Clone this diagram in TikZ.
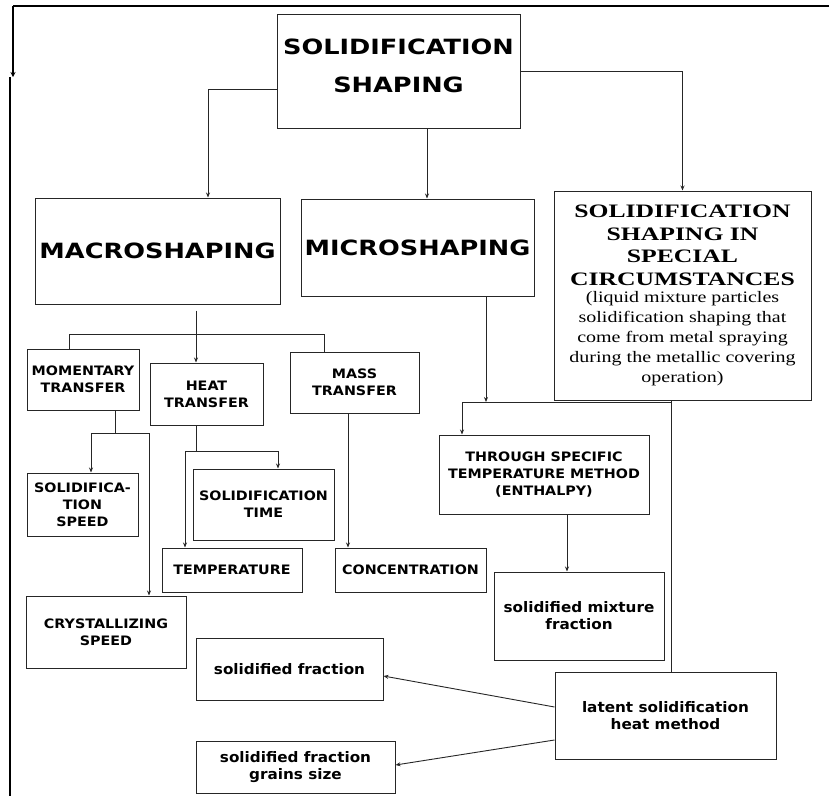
\documentclass[tikz,border=0pt]{standalone}
\usepackage{fontspec}
\setmainfont{Liberation Serif}
\newfontfamily\headsans{DejaVu Sans}[FakeStretch=1.22]
\newfontfamily\labelsans{DejaVu Sans}[FakeStretch=1.1]
\newfontfamily\lowsans{DejaVu Sans}[FakeStretch=1.05]
\newfontfamily\titleserif{Liberation Serif}[FakeStretch=1.35]
\newfontfamily\noteserif{Liberation Serif}[FakeStretch=1.25]
\newcommand\sptitle{\titleserif\bfseries\fontsize{19}{20}\selectfont}
\newcommand\spnote{\noteserif\mdseries\fontsize{16}{20}\selectfont}
\usetikzlibrary{arrows.meta}

\begin{document}
\begin{tikzpicture}[x=1pt,y=-1pt,
  box/.style={draw=black!85, line width=1pt, rectangle, inner sep=0pt, align=center},
  headfont/.style={font=\headsans\bfseries\fontsize{21}{38}\selectfont},
  headbox/.style={box, headfont},
  capbox/.style={box, font=\labelsans\bfseries\fontsize{13}{17}\selectfont},
  lowbox/.style={box, font=\lowsans\bfseries\fontsize{14.5}{17}\selectfont},
  link/.style={draw=black!85, line width=0.9pt},
  arr/.style={link, -{Stealth[length=5pt,width=4pt]}},
  frame/.style={draw=black, line width=1.1pt},
]
\useasboundingbox (0,0) rectangle (831,796);

% ---- outer frame ----
\coordinate (frameTL) at (13,6);
\coordinate (frameTR) at (829,6);
\coordinate (frameTip) at (13,77);
\coordinate (frameL) at (10,77);
\coordinate (frameBL) at (10,796);
\draw[frame] (frameTR) -- (frameTL);
\draw[frame, -{Stealth[length=5pt,width=5pt]}] (frameTL) -- (frameTip);
\draw[frame] (frameL) -- (frameBL);

% ---- top level ----
\node[box, minimum width=243pt, minimum height=114pt] (top) at (398.5,71) {};
\node[headfont, align=center, inner sep=0pt] (toptext) at (398.5,65.5) {SOLIDIFICATION\\SHAPING};

% ---- second level ----
\node[headbox, minimum width=245pt, minimum height=106pt] (macro) at (157.5,251) {MACROSHAPING};
\node[headbox, minimum width=233pt, minimum height=97pt] (micro) at (417.5,247.5) {MICROSHAPING};
\node[box, font=\spnote, minimum width=257pt, minimum height=209pt] (special) at (682.5,295.5)
  {\sptitle SOLIDIFICATION\\[2.5pt]\sptitle SHAPING IN\\[2.5pt]\sptitle SPECIAL\\[2.5pt]\sptitle CIRCUMSTANCES\\[-3pt]%
   (liquid mixture particles\\solidification shaping that\\come from metal spraying\\during the metallic covering\\operation)};

% ---- transfer boxes ----
\node[capbox, minimum width=112pt, minimum height=61pt] (mom) at (83,379.5) {MOMENTARY\\TRANSFER};
\node[capbox, minimum width=113pt, minimum height=62pt] (heat) at (206.5,394) {HEAT\\TRANSFER};
\node[capbox, minimum width=129pt, minimum height=61pt] (mass) at (354.5,382.5) {MASS\\TRANSFER};

% ---- results ----
\node[capbox, minimum width=111pt, minimum height=63pt] (speed) at (82.5,504.5) {SOLIDIFICA-\\TION\\SPEED};
\node[capbox, minimum width=141pt, minimum height=71pt] (time) at (263.5,504.5) {SOLIDIFICATION\\TIME};
\node[capbox, minimum width=140pt, minimum height=44pt] (temp) at (232,570) {TEMPERATURE};
\node[capbox, minimum width=151pt, minimum height=44pt] (conc) at (410.5,570) {CONCENTRATION};
\node[capbox, minimum width=160pt, minimum height=72pt] (cryst) at (106,632) {CRYSTALLIZING\\SPEED};
\node[capbox, minimum width=210pt, minimum height=79pt] (enth) at (544,474.5) {THROUGH SPECIFIC\\TEMPERATURE METHOD\\(ENTHALPY)};

\node[lowbox, minimum width=170pt, minimum height=88pt] (mix) at (579,616) {solidified mixture\\fraction};
\node[lowbox, minimum width=187pt, minimum height=62pt] (sfrac) at (289.5,669) {solidified fraction};
\node[lowbox, minimum width=199pt, minimum height=52pt] (grain) at (295.5,767) {solidified fraction\\grains size};
\node[lowbox, minimum width=221pt, minimum height=87pt] (latent) at (665.5,715.5) {latent solidification\\heat method};

% ---- connectors from the top box ----
\draw[arr] ([yshift=-18pt]top.west) -| ([xshift=50.5pt]macro.north);
\draw[arr] (top.east) -| (special.north);
\draw[arr] ([xshift=28.5pt]top.south) -- ([xshift=28.5pt]top.south |- micro.north);

% ---- macroshaping branches ----
\draw[arr, shorten <=6pt] ([xshift=38.5pt]macro.south) -- ([xshift=38.5pt]macro.south |- heat.north);
\draw[link] ([xshift=-14pt]mom.north) -- ++(0,-14) -| ([xshift=-30.5pt]mass.north);

% momentary transfer
\coordinate (momj) at (115,433);
\draw[link] (mom.south -| momj) -- (momj);
\draw[arr] (momj) -| ([xshift=8.5pt]speed.north);
\draw[arr] (momj) -| ([xshift=43pt]cryst.north);

% heat transfer
\coordinate (heatj) at (196,451);
\draw[link] (heat.south -| heatj) -- (heatj);
\draw[arr] (heatj) -| ([xshift=14.5pt]time.north);
\draw[arr] (heatj) -| ([xshift=-47pt]temp.north);

% mass transfer
\draw[arr] ([xshift=-6.5pt]mass.south) -- ([xshift=-6.5pt]mass.south |- conc.north);

% ---- microshaping and special circumstances ----
\coordinate (busR) at (671,402);
\coordinate (busL) at (462,402);
\coordinate (microj) at (486,402);
\draw[arr] (micro.south -| microj) -- (microj);
\draw[link] (busL) -- (busR);
\draw[arr] (busL) -- (busL |- enth.north);
\draw[link] (special.south -| busR) -- (busR |- latent.north);
\draw[arr] ([xshift=23pt]enth.south) -- ([xshift=23pt]enth.south |- mix.north);

% ---- latent heat method ----
\draw[arr] ([yshift=8.5pt]latent.west) -- ([yshift=-7pt]sfrac.east);
\draw[arr] ([yshift=-24.5pt]latent.west) -- ([yshift=2pt]grain.east);
\end{tikzpicture}
\end{document}
